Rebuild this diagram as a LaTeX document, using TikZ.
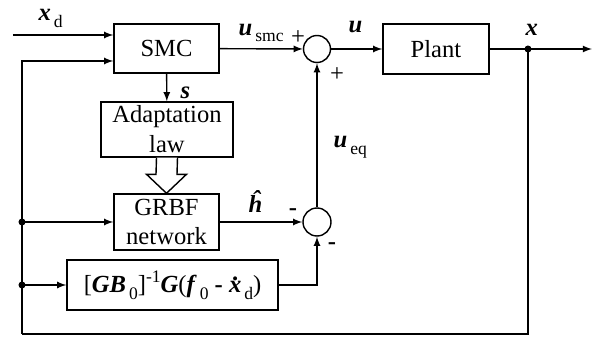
\documentclass[tikz,border=0pt]{standalone}
\usepackage{fontspec}
\setmainfont{Liberation Serif}
\usetikzlibrary{calc}
\newcommand{\bv}[1]{\textbf{\textit{#1}}}
\newcommand{\lsub}[1]{\raisebox{-0.6ex}{\fontsize{10}{10}\selectfont\,#1}}
\newcommand{\usup}[1]{\raisebox{0.9ex}{\fontsize{10}{10}\selectfont #1}}
\newcommand{\xdot}{\ooalign{\bv{x}\cr\hidewidth\raisebox{0.5em}{\bfseries .}\hidewidth\cr}}

\begin{document}
\begin{tikzpicture}[x=0.02cm, y=-0.02cm, >=latex, line width=0.8pt,
    font=\fontsize{14}{17}\selectfont,
    blk/.style={draw, rectangle, inner sep=0pt, align=center},
    sumj/.style={draw, circle, inner sep=0pt},
    lbl/.style={anchor=base west, inner sep=0pt}]
    \useasboundingbox (0,0) rectangle (600,338);

    \node[blk, minimum width=2.1cm, minimum height=0.98cm] (SMC) at (166.5,48.5) {SMC};
    \node[blk, minimum width=2.12cm, minimum height=1cm] (Plant) at (436,49) {Plant};
    \node[blk, minimum width=2.64cm, minimum height=1.1cm] (Adapt) at (167,129.5) {Adaptation\\law};
    \node[blk, minimum width=2.1cm, minimum height=1.12cm] (GRBF) at (166.5,222) {GRBF\\network};
    \node[blk, minimum width=4.22cm, minimum height=1cm] (Form) at (172.5,285)
        {[\bv{GB}\lsub{0}]\usup{-1}\bv{G}(\bv{f}\lsub{0} \textbf{-} \xdot\lsub{d})};
    \node[sumj, minimum size=0.54cm] (sum1) at (317,49) {};
    \node[sumj, minimum size=0.56cm] (sum2) at (317,222) {};

    \coordinate (xdin) at (13,35);
    \coordinate (xout) at (528,49);
    \coordinate (xend) at (592,49);
    \coordinate (fbr) at (528,334);
    \coordinate (fbl) at (22,334);
    \coordinate (fbt) at (22,61);
    \coordinate (tapG) at (22,222);
    \coordinate (tapF) at (22,285);

    \draw[->] (xdin) -- (xdin -| SMC.west);
    \draw[->] (fbl) -- (fbt) -- (fbt -| SMC.west);
    \draw[->] (SMC) -- (sum1);
    \draw[->] (sum1) -- (Plant);
    \draw[->] (Plant) -- (xend);
    \draw (xout) -- (fbr) -- (fbl);
    \draw[->] (SMC) -- (Adapt);
    \draw[->] (tapG) -- (GRBF);
    \draw[->] (tapF) -- (Form);
    \draw[->] (GRBF) -- (sum2);
    \draw[->] (Form) -| (sum2);
    \draw[->] (sum2) -- (sum1);
    \draw[fill=white] ($(Adapt.south)+(-10.5,0)$) -- ($(GRBF.north)+(-10.5,-19)$) -- ($(GRBF.north)+(-20,-19)$)
        -- (GRBF.north) -- ($(GRBF.north)+(20,-19)$) -- ($(GRBF.north)+(10.5,-19)$) -- ($(Adapt.south)+(10.5,0)$);
    \fill (xout) circle (3.5) (tapG) circle (3.5) (tapF) circle (3.5);

    \node[lbl] (lxd) at (38,20.5) {\bv{x}\lsub{d}};
    \node[lbl] (lusmc) at (238,35) {\bv{u}\lsub{smc}};
    \node (lp1) at (298,38) {+};
    \node (lp2) at (337,75) {+};
    \node[lbl] (lu) at (348,32) {\bv{u}};
    \node[lbl] (lx) at (525,35) {\bv{x}};
    \node[lbl] (lueq) at (333,148) {\bv{u}\lsub{eq}};
    \node[lbl] (ls) at (180,98) {\bv{s}};
    \node[lbl] (lh) at (248,213) {\bv{\^h}};
    \node (lm1) at (293,212) {\textbf{-}};
    \node (lm2) at (332,246) {\textbf{-}};
\end{tikzpicture}
\end{document}
